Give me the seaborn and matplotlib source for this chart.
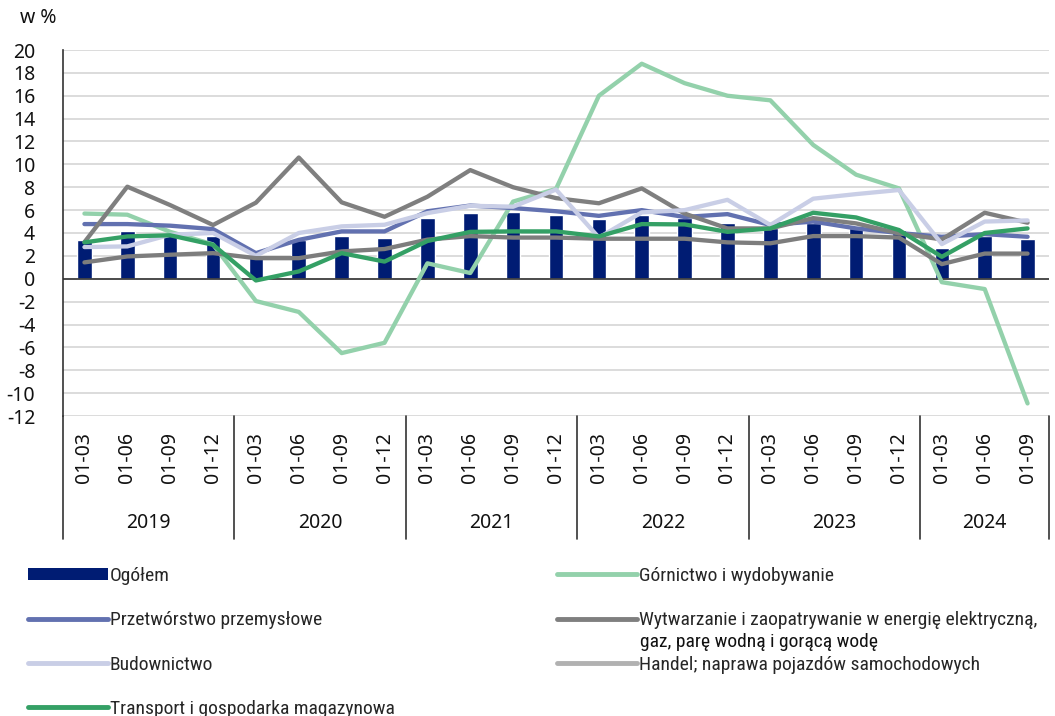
import matplotlib
matplotlib.use('Agg')
import matplotlib.pyplot as plt
import matplotlib.transforms as mtransforms
from matplotlib import font_manager
from matplotlib.lines import Line2D
from matplotlib.patches import Patch
import pandas as pd
import seaborn as sns

# dane (w %)
years = ['2019', '2020', '2021', '2022', '2023', '2024']
quarters_per_year = [4, 4, 4, 4, 4, 3]
quarter_labels = ['01-03', '01-06', '01-09', '01-12'] * 5 + ['01-03', '01-06', '01-09']

ogolem = [3.4, 4.2, 3.8, 3.7, 1.95, 3.4, 3.75, 3.6, 5.35, 5.75, 5.8, 5.6,
          5.25, 5.6, 5.3, 4.9, 4.4, 4.85, 4.4, 4.3, 2.7, 3.75, 3.5]
gornictwo = [5.7, 5.6, 4.1, 3.0, -1.95, -2.9, -6.5, -5.6, 1.35, 0.5, 6.75, 7.85,
             16.0, 18.8, 17.1, 16.0, 15.6, 11.7, 9.1, 7.9, -0.3, -0.9, -10.9]
przetworstwo = [4.78, 4.78, 4.64, 4.34, 2.24, 3.4, 4.14, 4.14, 5.9, 6.4, 6.18, 5.9,
                5.5, 6.0, 5.4, 5.65, 4.7, 5.0, 4.4, 4.0, 3.67, 3.9, 3.67]
wytwarzanie = [3.2, 8.05, 6.44, 4.7, 6.65, 10.6, 6.68, 5.42, 7.17, 9.5, 8.0, 7.05,
               6.6, 7.9, 5.7, 4.4, 4.4, 5.3, 4.84, 3.97, 3.44, 5.77, 4.9]
budownictwo = [2.77, 2.83, 3.85, 4.0, 2.0, 4.0, 4.58, 4.72, 5.74, 6.38, 6.3, 7.8,
               3.6, 5.8, 6.0, 6.9, 4.7, 7.0, 7.4, 7.76, 3.03, 5.0, 5.1]
handel = [1.43, 1.95, 2.1, 2.24, 1.8, 1.8, 2.39, 2.6, 3.42, 3.73, 3.6, 3.6,
          3.5, 3.5, 3.5, 3.18, 3.1, 3.73, 3.73, 3.6, 1.28, 2.2, 2.2]
transport = [3.18, 3.7, 3.8, 2.97, -0.15, 0.64, 2.24, 1.5, 3.3, 4.1, 4.14, 4.14,
             3.7, 4.78, 4.75, 4.1, 4.4, 5.77, 5.36, 4.26, 1.92, 4.0, 4.4]

series_names = ['Górnictwo i wydobywanie', 'Przetwórstwo przemysłowe',
                'Wytwarzanie i zaopatrywanie w energię elektryczną,',
                'Budownictwo', 'Handel; naprawa pojazdów samochodowych',
                'Transport i gospodarka magazynowa']
series_values = [gornictwo, przetworstwo, wytwarzanie, budownictwo, handel, transport]
colors = {
    'Górnictwo i wydobywanie': '#93d1ab',
    'Przetwórstwo przemysłowe': '#6271b0',
    'Wytwarzanie i zaopatrywanie w energię elektryczną,': '#7f7f7f',
    'Budownictwo': '#c9cee6',
    'Handel; naprawa pojazdów samochodowych': '#7d7d7d',
    'Transport i gospodarka magazynowa': '#34a065',
}
bar_color = '#001c73'

sns.set_style('white')
installed = {f.name for f in font_manager.fontManager.ttflist}
axis_font = 'Noto Sans' if 'Noto Sans' in installed else 'DejaVu Sans'
legend_font = 'DejaVu Sans'
for cand in ['Liberation Sans Narrow', 'Roboto Condensed', 'Open Sans Condensed', 'Roboto']:
    if cand in installed:
        legend_font = cand
        break
plt.rcParams['font.family'] = [axis_font, 'DejaVu Sans']
plt.rcParams['axes.unicode_minus'] = False

n = len(quarter_labels)
df_bars = pd.DataFrame({'pos': list(range(n)), 'value': ogolem})
rows = []
for name, vals in zip(series_names, series_values):
    for i, v in enumerate(vals):
        rows.append({'pos': i, 'value': v, 'series': name})
df_lines = pd.DataFrame(rows)

fig = plt.figure(figsize=(10.55, 7.16), dpi=100)
ax = fig.add_axes([63 / 1055, 1 - 416 / 716, 986 / 1055, 366 / 716])

sns.barplot(data=df_bars, x='pos', y='value', color=bar_color, saturation=1,
            width=0.34, ax=ax)
sns.lineplot(data=df_lines, x='pos', y='value', hue='series', hue_order=series_names,
             palette=colors, linewidth=3.1, legend=False, ax=ax)
for line, name in zip(ax.lines, series_names):
    line.set_solid_capstyle('butt')
    if name.startswith('Handel'):
        line.set_alpha(0.6)

ax.set_xlim(-0.5, n - 0.5)
ax.set_ylim(-12, 20)
ax.set_yticks(range(-12, 21, 2))
ax.yaxis.grid(True, color='#d9d9d9', linewidth=1.3)
ax.set_axisbelow(True)
ax.axhline(0, color='#404040', linewidth=1.3, zorder=1.5)
ax.tick_params(axis='y', length=0, pad=20, labelsize=14, labelcolor='#111111')
ax.set_xticks([])
ax.set_xlabel('')
ax.set_ylabel('')
for side in ['top', 'right', 'bottom']:
    ax.spines[side].set_visible(False)
ax.spines['left'].set_color('#333333')
ax.spines['left'].set_linewidth(1.2)

# etykiety osi kategorii
trans = mtransforms.blended_transform_factory(ax.transData, ax.transAxes)
for i, lab in enumerate(quarter_labels):
    ax.text(i, -0.044, lab, transform=trans, rotation=90, ha='center', va='top',
            fontsize=14, color='#111111')
start = 0
bounds = [-0.5]
for yr, cnt in zip(years, quarters_per_year):
    ax.text(start + (cnt - 1) / 2, -0.292, yr, transform=trans, ha='center',
            va='center', fontsize=14, color='#111111')
    start += cnt
    bounds.append(start - 0.5)
for b in bounds:
    ax.plot([b, b], [0, -0.337], transform=trans, color='#333333', linewidth=1.2,
            clip_on=False)

fig.text(20 / 1055, 1 - 18 / 716, 'w %', fontsize=14, va='center', color='#111111')

# legenda
def line_handle(name):
    return Line2D([], [], color=colors[name], linewidth=3.5,
                  alpha=0.6 if name.startswith('Handel') else 1)

left_handles = [Patch(facecolor=bar_color, edgecolor='none'),
                line_handle(series_names[1]), line_handle(series_names[3]),
                line_handle(series_names[5])]
left_labels = ['Ogółem', series_names[1], series_names[3], series_names[5]]
right_handles = [line_handle(series_names[0]), line_handle(series_names[2]),
                 line_handle(series_names[4])]
right_labels = [series_names[0], series_names[2], series_names[4]]

leg_size = 14
leg_kw = dict(frameon=False, loc='upper left', borderpad=0, borderaxespad=0,
              handlelength=4.1, handleheight=0.6, handletextpad=0.1, labelspacing=1.35,
              prop={'family': [legend_font, 'DejaVu Sans'], 'size': leg_size})
fig.legend(left_handles, left_labels, bbox_to_anchor=(28 / 1055, 1 - 567 / 716), **leg_kw)
fig.legend(right_handles, right_labels, bbox_to_anchor=(557 / 1055, 1 - 567 / 716), **leg_kw)
fig.text(640 / 1055, 1 - 642 / 716, 'gaz, parę wodną i gorącą wodę', va='center',
         family=[legend_font, 'DejaVu Sans'], fontsize=leg_size, color='#111111')

fig.savefig('out.png', dpi=100)
